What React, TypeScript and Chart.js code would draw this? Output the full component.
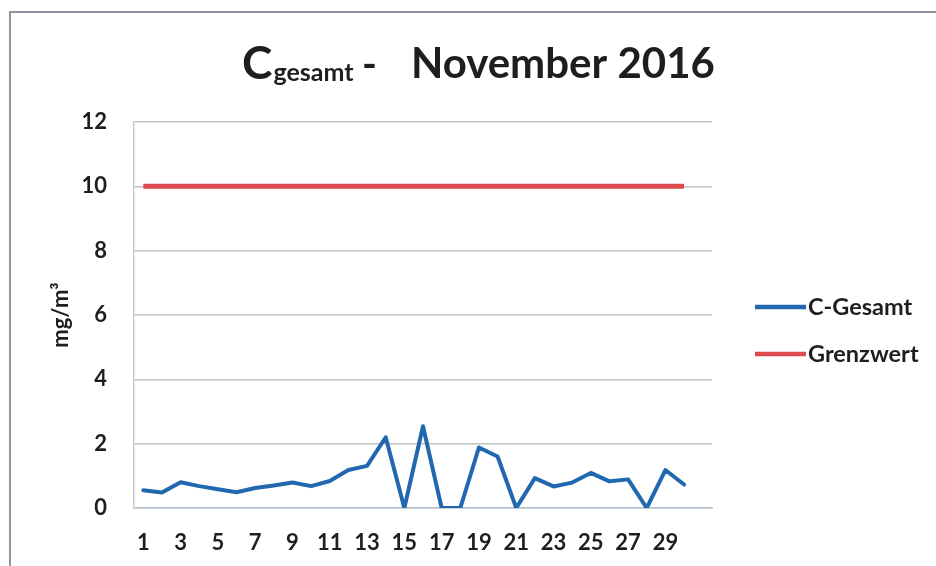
import React, { useEffect, useRef } from "react";
import { Chart, registerables } from "chart.js";

Chart.register(...registerables);

// Days of November 2016 (31st slot left empty, as in the source chart)
const days: string[] = [
  "1", "2", "3", "4", "5", "6", "7", "8", "9", "10",
  "11", "12", "13", "14", "15", "16", "17", "18", "19", "20",
  "21", "22", "23", "24", "25", "26", "27", "28", "29", "30", "",
];

// C-Gesamt daily values in mg/m³
const cGesamt: number[] = [
  0.55, 0.48, 0.8, 0.68, 0.58, 0.49, 0.62, 0.7, 0.79, 0.68,
  0.84, 1.18, 1.31, 2.2, 0, 2.54, 0, 0, 1.88, 1.6,
  0, 0.93, 0.67, 0.79, 1.09, 0.83, 0.89, 0, 1.18, 0.73,
];

// Limit value (Grenzwert) in mg/m³
const grenzwert: number[] = [
  10, 10, 10, 10, 10, 10, 10, 10, 10, 10,
  10, 10, 10, 10, 10, 10, 10, 10, 10, 10,
  10, 10, 10, 10, 10, 10, 10, 10, 10, 10,
];

const yTicks: number[] = [0, 2, 4, 6, 8, 10, 12];

const seriesNames: string[] = ["C-Gesamt", "Grenzwert"];
const titleMain = "November 2016";
const titleC = "C";
const titleSub = "gesamt";
const yTitle = "mg/m³";

const FONT = "Lato, 'Open Sans', sans-serif";
const TEXT = "#1e1e1e";

const titlePlugin = {
  id: "subTitle",
  afterDraw(chart: any) {
    const ctx = chart.ctx;
    ctx.save();
    ctx.fillStyle = TEXT;
    ctx.textBaseline = "alphabetic";
    ctx.textAlign = "left";
    ctx.font = `bold 46px ${FONT}`;
    ctx.fillText(titleC, 242, 79);
    const cw = ctx.measureText(titleC).width;
    ctx.font = `bold 25px ${FONT}`;
    ctx.fillText(titleSub, 242 + cw + 1, 81);
    ctx.font = `bold 40px ${FONT}`;
    ctx.fillText("-", 362, 78);
    ctx.font = `bold 42px ${FONT}`;
    ctx.fillText(titleMain, 411, 78);
    ctx.restore();
  },
};

const legendPlugin = {
  id: "sideLegend",
  afterDraw(chart: any) {
    const ctx = chart.ctx;
    const area = chart.chartArea;
    const x0 = area.right + 43;
    const rows = [307, 354];
    ctx.save();
    chart.data.datasets.forEach((ds: any, i: number) => {
      const y = rows[i];
      ctx.strokeStyle = ds.borderColor;
      ctx.lineWidth = 4.5;
      ctx.lineCap = "butt";
      ctx.beginPath();
      ctx.moveTo(x0, y);
      ctx.lineTo(x0 + 51, y);
      ctx.stroke();
      ctx.fillStyle = TEXT;
      ctx.font = `bold 23.5px ${FONT}`;
      ctx.textBaseline = "middle";
      ctx.textAlign = "left";
      ctx.fillText(ds.label, x0 + 53, y);
    });
    ctx.restore();
  },
};

export default function App() {
  const ref = useRef<HTMLCanvasElement | null>(null);

  useEffect(() => {
    if (!ref.current) return;
    const chart = new Chart(ref.current, {
      type: "line",
      data: {
        labels: days,
        datasets: [
          {
            label: seriesNames[0],
            data: cGesamt,
            borderColor: "#2268b0",
            backgroundColor: "#2268b0",
            borderWidth: 4,
            pointRadius: 0,
            tension: 0,
            borderJoinStyle: "round",
            borderCapStyle: "round",
          },
          {
            label: seriesNames[1],
            data: grenzwert,
            borderColor: "#dc4a4f",
            backgroundColor: "#dc4a4f",
            borderWidth: 5,
            pointRadius: 0,
            tension: 0,
          },
        ],
      },
      options: {
        animation: false,
        responsive: true,
        maintainAspectRatio: false,
        layout: { padding: { top: 122, right: 224, bottom: 0, left: 0 } },
        plugins: {
          legend: { display: false },
          title: { display: false },
          tooltip: { enabled: false },
        },
        scales: {
          x: {
            type: "category",
            offset: true,
            grid: { display: false, drawTicks: false },
            border: { display: true, color: "#b6c2cf", width: 1.5 },
            ticks: {
              autoSkip: false,
              maxRotation: 0,
              minRotation: 0,
              padding: 22,
              color: TEXT,
              font: { family: FONT, size: 22, weight: "bold" },
              callback: (_v: any, i: number) => (i % 2 === 0 ? days[i] : ""),
            },
            afterFit: (s: any) => {
              s.height = 58;
            },
          },
          y: {
            min: 0,
            max: 12,
            afterBuildTicks: (s: any) => {
              s.ticks = yTicks.map((v) => ({ value: v }));
            },
            grid: { color: "#c2c2c2", lineWidth: 1.5, drawTicks: false },
            border: { display: true, color: "#c8ccd2", width: 1.5 },
            ticks: {
              padding: 27,
              color: TEXT,
              font: { family: FONT, size: 22, weight: "bold" },
            },
            title: {
              display: true,
              text: yTitle,
              color: TEXT,
              font: { family: FONT, size: 22, weight: "bold" },
              padding: { top: 48, bottom: 0 },
            },
            afterFit: (s: any) => {
              s.width = 134;
            },
          },
        },
      },
      plugins: [titlePlugin, legendPlugin],
    });
    return () => chart.destroy();
  }, []);

  return (
    <div
      style={{
        position: "absolute",
        left: 0,
        top: 0,
        width: 936,
        height: 566,
        overflow: "hidden",
        background: "#ffffff",
      }}
    >
      <div
        style={{
          position: "absolute",
          left: 9,
          top: 11,
          width: 1000,
          height: 1000,
          borderLeft: "2px solid #8d949e",
          borderTop: "2px solid #8d949e",
        }}
      />
      <div style={{ position: "absolute", left: 0, top: 0, width: 936, height: 566 }}>
        <canvas ref={ref} />
      </div>
    </div>
  );
}
